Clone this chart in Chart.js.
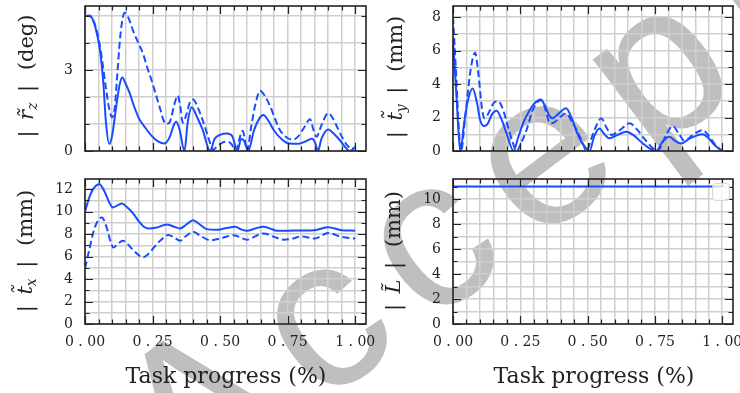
<!DOCTYPE html>
<html>
<head>
<meta charset="utf-8">
<script src="https://cdn.jsdelivr.net/npm/chart.js@4.4.0/dist/chart.umd.min.js"></script>
<style>
  html, body { margin: 0; padding: 0; width: 740px; height: 393px; overflow: hidden; background: #fff; }
  canvas { position: absolute; z-index: 2; }
  .wm { position: absolute; z-index: 1; left: 185px; top: 327px; font-family: "Liberation Sans"; font-size: 215px;
        letter-spacing: 26px; line-height: 1; color: #bfbfbf; white-space: nowrap;
        transform-origin: 0 182px; transform: rotate(-37deg); }
  .lab { position: absolute; z-index: 3; font-family: "DejaVu Serif"; font-size: 22px; color: #222;
         white-space: nowrap; transform: translate(-50%, -50%); }
  .ylab { font-size: 21px; transform: translate(-50%, -50%) rotate(-90deg); }
  .lab sub { font-size: 0.66em; vertical-align: -0.3em; line-height: 0; }
</style>
</head>
<body>
<div class="wm">Accepted</div>
<div class="lab ylab" style="left:26px; top:76px">|&ensp;<i>r&#771;</i><sub><i>z</i></sub>&ensp;|&ensp;&thinsp;(deg)</div>
<div class="lab ylab" style="left:395px; top:77px">|&ensp;<i>t&#771;</i><sub><i>y</i></sub>&ensp;|&ensp;&thinsp;(mm)</div>
<div class="lab ylab" style="left:25px; top:251px">|&ensp;<i>t&#771;</i><sub><i>x</i></sub>&ensp;|&ensp;&thinsp;(mm)</div>
<div class="lab ylab" style="left:393px; top:251px">|&ensp;<i>L&#771;</i>&ensp;|&ensp;&thinsp;(mm)</div>
<div class="lab" style="left:226px; top:375px">Task progress (%)</div>
<div class="lab" style="left:594px; top:375px">Task progress (%)</div>
<script>
// rotation error |r_z| (deg)
const rzSolidX = [0, 0.015, 0.03, 0.045, 0.056, 0.068, 0.078, 0.09, 0.1, 0.115, 0.128, 0.138, 0.15, 0.165, 0.18, 0.2, 0.222, 0.245, 0.27, 0.295, 0.315, 0.327, 0.337, 0.35, 0.368, 0.38, 0.395, 0.415, 0.435, 0.463, 0.48, 0.5, 0.525, 0.545, 0.564, 0.578, 0.59, 0.604, 0.625, 0.645, 0.66, 0.68, 0.7, 0.73, 0.755, 0.79, 0.815, 0.84, 0.852, 0.862, 0.875, 0.9, 0.92, 0.945, 0.965, 0.98, 1.0];
const rzSolid  = [5.0, 5.02, 4.85, 4.3, 3.7, 2.5, 1.0, 0.26, 0.55, 1.6, 2.45, 2.72, 2.5, 2.15, 1.7, 1.2, 0.88, 0.58, 0.36, 0.28, 0.55, 0.92, 1.08, 0.8, 0.0, 1.05, 1.62, 1.25, 0.8, 0.0, 0.45, 0.6, 0.65, 0.55, 0.0, 0.45, 0.35, 0.0, 0.75, 1.2, 1.33, 1.1, 0.75, 0.42, 0.28, 0.27, 0.35, 0.45, 0.3, 0.0, 0.45, 0.8, 0.65, 0.38, 0.12, 0.0, 0.15];
const rzDashX  = [0, 0.015, 0.03, 0.045, 0.06, 0.075, 0.09, 0.1, 0.11, 0.12, 0.13, 0.14, 0.148, 0.16, 0.18, 0.2, 0.215, 0.23, 0.247, 0.265, 0.28, 0.29, 0.3, 0.315, 0.33, 0.343, 0.352, 0.362, 0.375, 0.388, 0.4, 0.42, 0.437, 0.455, 0.474, 0.49, 0.51, 0.525, 0.54, 0.56, 0.57, 0.584, 0.592, 0.6, 0.615, 0.63, 0.648, 0.665, 0.686, 0.705, 0.72, 0.74, 0.77, 0.79, 0.81, 0.833, 0.845, 0.857, 0.875, 0.9, 0.915, 0.935, 0.955, 0.97, 0.985, 1.0];
const rzDash   = [5.0, 5.0, 4.85, 4.4, 3.6, 2.5, 1.55, 1.25, 1.6, 2.9, 4.2, 4.95, 5.12, 4.95, 4.4, 3.95, 3.6, 3.1, 2.6, 2.0, 1.5, 1.15, 1.0, 1.1, 1.7, 2.05, 1.7, 1.05, 1.35, 1.8, 1.91, 1.55, 1.1, 0.55, 0.05, 0.18, 0.32, 0.35, 0.28, 0.02, 0.4, 0.75, 0.4, 0.0, 0.9, 1.7, 2.23, 2.05, 1.64, 1.15, 0.8, 0.55, 0.42, 0.55, 0.85, 1.18, 0.8, 0.53, 0.95, 1.4, 1.25, 0.85, 0.45, 0.22, 0.08, 0.12];

// translation error |t_y| (mm)
const tySolidX = [0, 0.012, 0.022, 0.028, 0.04, 0.055, 0.073, 0.09, 0.1, 0.115, 0.128, 0.145, 0.162, 0.18, 0.2, 0.225, 0.24, 0.26, 0.28, 0.3, 0.325, 0.342, 0.358, 0.37, 0.39, 0.42, 0.44, 0.457, 0.475, 0.49, 0.507, 0.525, 0.544, 0.56, 0.58, 0.61, 0.643, 0.67, 0.705, 0.73, 0.754, 0.78, 0.804, 0.825, 0.847, 0.88, 0.927, 0.95, 0.975, 1.0];
const tySolid  = [6.6, 3.5, 0.8, 0.0, 1.5, 3.0, 3.74, 2.8, 1.9, 1.49, 1.6, 2.2, 2.4, 1.9, 1.0, 0.0, 0.7, 1.65, 2.3, 2.8, 3.08, 2.7, 2.1, 1.95, 2.2, 2.55, 2.0, 1.25, 0.6, 0.25, 0.0, 0.9, 1.35, 1.05, 0.76, 0.95, 1.15, 0.95, 0.45, 0.15, 0.0, 0.6, 0.85, 0.6, 0.45, 0.75, 1.0, 0.75, 0.3, 0.0];
const tyDashX  = [0, 0.012, 0.022, 0.03, 0.045, 0.065, 0.082, 0.095, 0.108, 0.118, 0.13, 0.15, 0.168, 0.185, 0.205, 0.222, 0.236, 0.255, 0.273, 0.295, 0.31, 0.328, 0.345, 0.359, 0.375, 0.4, 0.42, 0.44, 0.47, 0.485, 0.495, 0.515, 0.535, 0.551, 0.57, 0.59, 0.62, 0.656, 0.68, 0.71, 0.74, 0.76, 0.79, 0.816, 0.84, 0.86, 0.89, 0.927, 0.95, 0.975, 1.0];
const tyDash   = [8.0, 4.5, 1.2, 0.0, 2.0, 4.8, 5.87, 4.5, 2.5, 1.95, 2.2, 2.85, 2.98, 2.5, 1.4, 0.5, 0.0, 0.55, 1.25, 2.4, 2.85, 3.04, 2.4, 1.66, 1.7, 2.05, 2.25, 1.8, 0.9, 0.35, 0.0, 0.8, 1.6, 1.95, 1.4, 0.96, 1.25, 1.65, 1.35, 0.75, 0.2, 0.0, 0.9, 1.49, 1.0, 0.6, 0.95, 1.25, 0.9, 0.35, 0.0];

// translation error |t_x| (mm)
const txSolidX = [0, 0.015, 0.03, 0.053, 0.07, 0.09, 0.103, 0.12, 0.137, 0.155, 0.178, 0.2, 0.218, 0.235, 0.265, 0.302, 0.33, 0.352, 0.375, 0.4, 0.425, 0.45, 0.487, 0.52, 0.556, 0.58, 0.6, 0.63, 0.66, 0.69, 0.71, 0.75, 0.8, 0.85, 0.9, 0.95, 1.0];
const txSolid  = [10.0, 11.2, 12.0, 12.44, 11.9, 10.8, 10.37, 10.55, 10.73, 10.4, 9.84, 9.1, 8.65, 8.5, 8.58, 8.86, 8.65, 8.5, 8.85, 9.24, 8.85, 8.44, 8.38, 8.52, 8.65, 8.4, 8.3, 8.5, 8.65, 8.45, 8.3, 8.3, 8.32, 8.35, 8.6, 8.35, 8.3];
const txDashX  = [0, 0.015, 0.035, 0.062, 0.08, 0.095, 0.105, 0.12, 0.14, 0.16, 0.178, 0.2, 0.215, 0.235, 0.252, 0.28, 0.308, 0.33, 0.352, 0.375, 0.4, 0.43, 0.463, 0.5, 0.55, 0.6, 0.63, 0.66, 0.7, 0.735, 0.77, 0.8, 0.85, 0.9, 0.95, 1.0];
const txDash   = [4.95, 6.5, 8.5, 9.48, 8.6, 7.3, 6.81, 7.1, 7.41, 7.05, 6.58, 6.1, 5.93, 6.25, 6.72, 7.45, 7.91, 7.7, 7.41, 7.85, 8.2, 7.8, 7.45, 7.6, 7.9, 7.5, 7.8, 8.06, 7.75, 7.5, 7.6, 7.8, 7.6, 8.1, 7.75, 7.6];

// length error |L| (mm)
const lX = [0, 1.0];
const lVal = [11.0, 11.0];

// tick labels
const xTickLabels = [0, 0.25, 0.5, 0.75, 1.0];
const rzTicks = [0, 3];
const tyTicks = [0, 2, 4, 6, 8];
const txTicks = [0, 2, 4, 6, 8, 10, 12];
const lTicks = [0, 2, 4, 6, 8, 10];

const BLUE = '#1a4cff';
const INK = '#222';
const GRID = '#cfcfcf';
const FONT = { family: 'DejaVu Serif', size: 14 };

const pts = (xs, ys) => xs.map((x, i) => ({ x: x, y: ys[i] }));
const isMajorX = v => xTickLabels.some(t => Math.abs(t - v) < 1e-6);

// black frame, inward tick marks and the empty legend frame
const frame = {
  id: 'frame',
  afterDraw(chart, args, opts) {
    const ctx = chart.ctx, a = chart.chartArea;
    const xs = chart.scales.x, ys = chart.scales.y;
    ctx.save();
    ctx.strokeStyle = INK;
    ctx.lineWidth = 1.2;
    ctx.beginPath();
    xs.ticks.forEach(t => {
      const p = Math.round(xs.getPixelForValue(t.value)) + 0.5;
      const len = isMajorX(t.value) ? 8 : 4.5;
      ctx.moveTo(p, a.bottom); ctx.lineTo(p, a.bottom - len);
      ctx.moveTo(p, a.top); ctx.lineTo(p, a.top + len);
    });
    ys.ticks.forEach(t => {
      const p = Math.round(ys.getPixelForValue(t.value)) + 0.5;
      const len = opts.yMajor.includes(t.value) ? 8 : 4.5;
      ctx.moveTo(a.left, p); ctx.lineTo(a.left + len, p);
      ctx.moveTo(a.right, p); ctx.lineTo(a.right - len, p);
    });
    ctx.stroke();
    ctx.lineWidth = 1.6;
    ctx.strokeRect(a.left, a.top, a.right - a.left, a.bottom - a.top);
    if (opts.legendBox) {
      ctx.fillStyle = 'rgba(255,255,255,0.8)';
      ctx.strokeStyle = '#d6d6d6';
      ctx.lineWidth = 1;
      ctx.beginPath();
      ctx.roundRect(a.right - 20.5, a.top + 4.5, 17, 17, 3);
      ctx.fill();
      ctx.stroke();
    }
    ctx.restore();
  }
};

function makeChart(box, yMax, yMajor, datasets, showX, legendBox) {
  const c = document.createElement('canvas');
  c.width = box.w; c.height = box.h;
  c.style.left = box.cx + 'px'; c.style.top = box.cy + 'px';
  document.body.appendChild(c);
  const yw = box.L - box.cx, xh = box.cy + box.h - box.B;
  return new Chart(c, {
    type: 'line',
    data: { datasets: datasets },
    options: {
      responsive: false, animation: false, devicePixelRatio: 1,
      layout: { padding: { top: box.T - box.cy, right: box.cx + box.w - box.R, left: 0, bottom: 0 } },
      plugins: { legend: { display: false }, tooltip: { enabled: false }, frame: { yMajor: yMajor, legendBox: legendBox } },
      elements: { point: { radius: 0 }, line: { borderWidth: 2, cubicInterpolationMode: 'monotone' } },
      scales: {
        x: {
          type: 'linear', min: 0, max: 1.04,
          afterFit(s) { s.height = xh; },
          ticks: {
            display: showX, stepSize: 0.05, includeBounds: false, autoSkip: false, maxRotation: 0,
            padding: 10, color: INK, font: FONT,
            callback: v => isMajorX(v) ? v.toFixed(2).replace('.', ' . ') : ''
          },
          grid: { color: GRID, lineWidth: 1.5, drawTicks: false },
          border: { display: false }
        },
        y: {
          type: 'linear', min: 0, max: yMax,
          afterFit(s) { s.width = yw; },
          ticks: {
            stepSize: 1, includeBounds: false, autoSkip: false, padding: 12, color: INK, font: FONT,
            callback: v => yMajor.includes(v) ? String(v) : ''
          },
          grid: { color: GRID, lineWidth: 1.5, drawTicks: false },
          border: { display: false }
        }
      }
    },
    plugins: [frame]
  });
}

const solid = (d) => ({ data: d, borderColor: BLUE, borderWidth: 2 });
const dashed = (d) => ({ data: d, borderColor: BLUE, borderWidth: 2, borderDash: [7, 3.5] });

// canvases overlap a little; paddings leave room for Chart.js label padding
makeChart({ cx: 0, cy: -16, w: 400, h: 189, L: 85, T: 6, R: 366, B: 151 }, 5.37, rzTicks,
  [solid(pts(rzSolidX, rzSolid)), dashed(pts(rzDashX, rzDash))], false, false);
makeChart({ cx: 370, cy: -16, w: 400, h: 189, L: 453, T: 6, R: 733, B: 151 }, 8.66, tyTicks,
  [solid(pts(tySolidX, tySolid)), dashed(pts(tyDashX, tyDash))], false, false);
makeChart({ cx: 0, cy: 155, w: 400, h: 238, L: 85, T: 179, R: 366, B: 324 }, 12.9, txTicks,
  [solid(pts(txSolidX, txSolid)), dashed(pts(txDashX, txDash))], true, false);
makeChart({ cx: 370, cy: 155, w: 400, h: 238, L: 453, T: 179, R: 733, B: 324 }, 11.6, lTicks,
  [solid(pts(lX, lVal))], true, true);
</script>
</body>
</html>
